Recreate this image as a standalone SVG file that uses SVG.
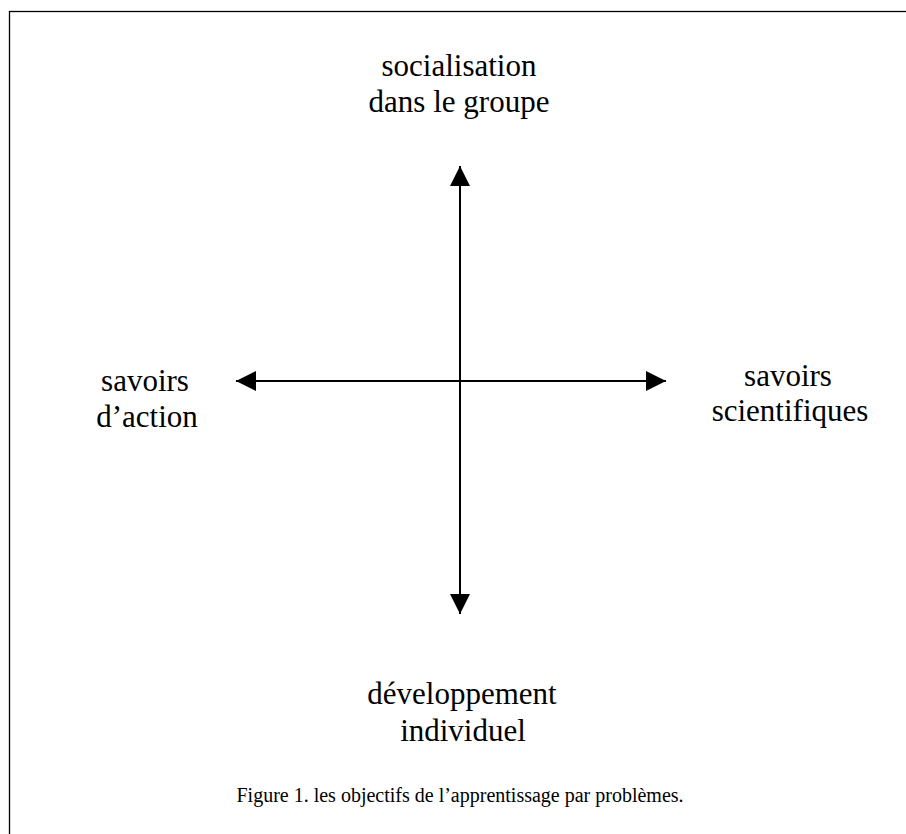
<svg xmlns="http://www.w3.org/2000/svg" width="906" height="834" viewBox="0 0 906 834">
  <style>
    .lbl { font-family: "Liberation Serif", "Times New Roman", serif; font-size: 31px; fill: #000; text-anchor: middle; }
    .cap { font-family: "Liberation Serif", "Times New Roman", serif; font-size: 20px; fill: #000; text-anchor: middle; }
    .axis { stroke: #000; stroke-width: 2; fill: none; }
  </style>
  <defs>
    <marker id="ah" markerUnits="userSpaceOnUse" markerWidth="20" markerHeight="20" refX="20" refY="10" orient="auto-start-reverse" viewBox="0 0 20 20">
      <path d="M0,0 L20,10 L0,20 z" fill="#000"/>
    </marker>
  </defs>
  <rect x="0" y="0" width="906" height="834" fill="#fff"/>
  <rect x="9.5" y="11.5" width="1000" height="1000" fill="none" stroke="#000" stroke-width="1.3"/>
  <g id="connectors">
    <line class="axis" x1="460" y1="166" x2="460" y2="614" marker-start="url(#ah)" marker-end="url(#ah)"/>
    <line class="axis" x1="236" y1="381" x2="666" y2="381" marker-start="url(#ah)" marker-end="url(#ah)"/>
  </g>
  <g id="top">
    <text class="lbl" x="459" y="76">socialisation</text>
    <text class="lbl" x="459" y="112">dans le groupe</text>
  </g>
  <g id="left">
    <text class="lbl" x="145" y="391">savoirs</text>
    <text class="lbl" x="147" y="427">d’action</text>
  </g>
  <g id="right">
    <text class="lbl" x="788" y="386">savoirs</text>
    <text class="lbl" x="790" y="421">scientifiques</text>
  </g>
  <g id="bottom">
    <text class="lbl" x="462" y="704">développement</text>
    <text class="lbl" x="463" y="741">individuel</text>
  </g>
  <g id="caption">
    <text class="cap" x="460" y="802">Figure 1. les objectifs de l’apprentissage par problèmes.</text>
  </g>
</svg>
